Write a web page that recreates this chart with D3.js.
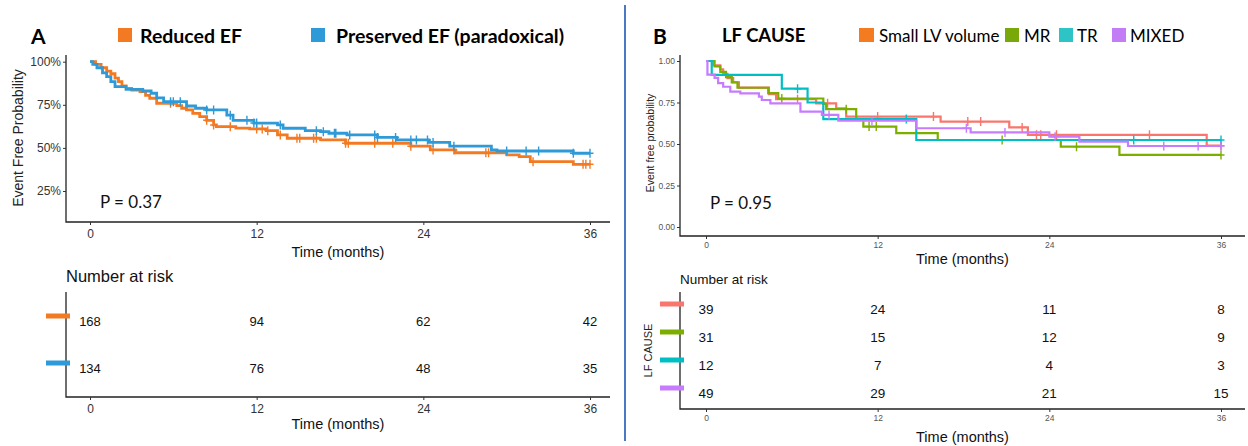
<!DOCTYPE html>
<html>
<head>
<meta charset="utf-8">
<script src="https://cdn.jsdelivr.net/npm/d3@7"></script>
<style>
  body { margin: 0; background: #fff; }
  svg { display: block; }
</style>
</head>
<body>
<svg id="chart" width="1248" height="446"></svg>
<script>
// ---- data ----
const monthTicks = [0, 12, 24, 36];
const pctTicks = [0.25, 0.5, 0.75, 1];
const probTicks = [0, 0.25, 0.5, 0.75, 1];

// Panel A: [time (months), survival]
const groupsA = ["Reduced EF", "Preserved EF (paradoxical)"];
const reducedEF = [[0,1],[0.4,0.985],[0.8,0.965],[1.2,0.945],[1.5,0.93],[1.8,0.905],[2.05,0.884],[2.3,0.86],[2.6,0.845],[3.0,0.835],[3.6,0.826],[4.0,0.805],[4.3,0.788],[4.8,0.759],[6.25,0.745],[6.6,0.73],[6.95,0.72],[7.4,0.70],[7.9,0.681],[8.4,0.66],[8.9,0.633],[9.1,0.623],[10.5,0.615],[11.5,0.61],[12.7,0.60],[13.5,0.575],[14.2,0.556],[16.6,0.546],[18.4,0.527],[23.1,0.51],[24.5,0.488],[26.3,0.472],[30.0,0.459],[30.9,0.449],[31.7,0.42],[34.8,0.405]];
const preservedEF = [[0,1],[0.2,0.985],[0.5,0.965],[0.9,0.935],[1.2,0.913],[1.5,0.885],[1.8,0.855],[2.6,0.84],[3.8,0.83],[4.4,0.817],[4.8,0.79],[5.3,0.768],[6.95,0.743],[7.6,0.73],[8.4,0.72],[9.85,0.69],[10.3,0.66],[11.8,0.644],[13.5,0.633],[13.9,0.614],[15.5,0.60],[16.6,0.594],[17.2,0.585],[18.5,0.575],[20.7,0.561],[22.1,0.546],[24.4,0.532],[25.9,0.51],[28.9,0.488],[29.3,0.482],[34.8,0.469]];
const reducedCens = [5.8, 8.4, 8.9, 10.1, 12.0, 12.4, 12.8, 13.7, 14.9, 15.1, 16.1, 16.3, 18.4, 18.6, 20.5, 21.8, 23.1, 24.7, 26.2, 28.5, 28.7, 31.9, 35.5, 35.7, 36];
const preservedCens = [5.8, 6.0, 6.5, 8.4, 8.9, 10.1, 11.3, 11.8, 12.0, 13.7, 16.3, 16.8, 17.6, 17.7, 18.7, 20.5, 20.7, 22.0, 23.1, 23.5, 24.3, 24.7, 26.2, 30.0, 31.4, 32.3, 34.8, 36];
const reducedRisk = [168, 94, 62, 42];
const preservedRisk = [134, 76, 48, 35];

// Panel B
const groupsB = ["Small LV volume", "MR", "TR", "MIXED"];
const smallLV = [[0,1],[0.5,0.974],[1.0,0.949],[1.2,0.923],[1.5,0.897],[1.9,0.872],[2.3,0.84],[4.4,0.80],[4.9,0.77],[7.7,0.745],[9.1,0.715],[9.8,0.665],[16.4,0.635],[21.2,0.60],[22.5,0.555],[35.0,0.49]];
const mr = [[0,1],[0.6,0.968],[1.0,0.935],[1.4,0.903],[1.8,0.871],[2.2,0.839],[4.35,0.806],[5.05,0.774],[8.2,0.742],[8.4,0.71],[10.5,0.645],[11.0,0.605],[13.3,0.565],[16.2,0.524],[24.8,0.484],[28.9,0.434]];
const tr = [[0,1],[0.4,0.917],[5.3,0.833],[7.1,0.75],[8.2,0.65],[14.7,0.524]];
const mixed = [[0,1],[0.1,0.918],[0.6,0.898],[0.85,0.867],[1.2,0.845],[1.7,0.815],[2.4,0.805],[3.7,0.785],[3.9,0.765],[4.5,0.745],[6.6,0.695],[8.1,0.675],[9.25,0.64],[14.7,0.595],[18.5,0.57],[24.0,0.544],[26.1,0.514],[29.5,0.488]];
const smallLVCens = [6.4, 8.5, 12.0, 15.9, 18.3, 19.2, 22.1, 23.1, 23.4, 24.5, 31.0, 36];
const mrCens = [5.3, 9.8, 11.4, 11.9, 20.7, 25.9, 36];
const trCens = [6.4, 14.0, 29.9, 36];
const mixedCens = [8.6, 11.6, 18.2, 20.9, 24.4, 32.0, 34.4, 36];
const smallLVRisk = [39, 24, 11, 8];
const mrRisk = [31, 15, 12, 9];
const trRisk = [12, 7, 4, 3];
const mixedRisk = [49, 29, 21, 15];

// ---- drawing ----
const svg = d3.select("#chart");
svg.append("rect").attr("width", 1248).attr("height", 446).attr("fill", "#fff");

const ARIAL = "'Liberation Sans', Arial, sans-serif";
const GILL = "Lato, 'Open Sans', sans-serif";

function stepAt(curve, t) {
  let v = curve[0][1];
  for (const [ct, cv] of curve) { if (ct <= t) v = cv; else break; }
  return v;
}

function styleAxis(g, size, color) {
  g.select(".domain").remove();
  g.selectAll(".tick line").attr("stroke", "#333").attr("stroke-width", 1);
  g.selectAll(".tick text").attr("font-family", ARIAL).attr("font-size", size).attr("fill", color);
}

function frame(g, left, top, bottom, right) {
  g.append("path")
    .attr("d", `M${left},${top}V${bottom}H${right}`)
    .attr("fill", "none").attr("stroke", "#222").attr("stroke-width", 1.3);
}

function text(g, x, y, s, font, size, opts = {}) {
  const t = g.append("text").attr("x", x).attr("y", y).text(s)
    .attr("font-family", font).attr("font-size", size)
    .attr("fill", opts.fill || "#111")
    .attr("dominant-baseline", "central")
    .attr("text-anchor", opts.anchor || "start");
  if (opts.bold) t.attr("font-weight", "bold");
  if (opts.rotate) t.attr("transform", `rotate(-90,${x},${y})`);
  return t;
}

function drawPanel(cfg) {
  const g = svg.append("g");
  const x = d3.scaleLinear().domain([0, 36]).range(cfg.xRange);
  const y = d3.scaleLinear().domain([0, 1]).range(cfg.yRange);

  // survival plot
  frame(g, cfg.left, cfg.top, cfg.bottom, cfg.right);
  const xa = g.append("g").attr("transform", `translate(0,${cfg.bottom})`)
    .call(d3.axisBottom(x).tickValues(monthTicks).tickSize(3).tickPadding(cfg.tickPad));
  styleAxis(xa, cfg.tickSize, cfg.tickColor);
  const ya = g.append("g").attr("transform", `translate(${cfg.left},0)`)
    .call(d3.axisLeft(y).tickValues(cfg.yTicks).tickFormat(cfg.yFormat).tickSize(3).tickPadding(2));
  styleAxis(ya, cfg.yTickSize, cfg.tickColor);

  const line = d3.line().x(d => x(d[0])).y(d => y(d[1])).curve(d3.curveStepAfter);
  cfg.series.forEach(s => {
    const pts = s.curve.concat([[36, s.curve[s.curve.length - 1][1]]]);
    g.append("path").attr("d", line(pts)).attr("fill", "none")
      .attr("stroke", s.color).attr("stroke-width", cfg.lineWidth);
    g.append("path")
      .attr("d", s.cens.map(t => {
        const cx = x(t), cy = y(stepAt(s.curve, t));
        return `M${cx - 3.5},${cy}H${cx + 3.5}M${cx},${cy - 4.5}V${cy + 4.5}`;
      }).join(""))
      .attr("fill", "none").attr("stroke", s.color).attr("stroke-width", 1.4);
  });

  text(g, cfg.yLabelX, cfg.yLabelY, cfg.yLabel, ARIAL, cfg.yLabelSize, { anchor: "middle", rotate: true, fill: "#222" });
  text(g, (cfg.left + cfg.right) / 2, cfg.timeY, "Time (months)", ARIAL, 14.5, { anchor: "middle", fill: "#111" });
  text(g, cfg.pX, cfg.pY, cfg.pText, GILL, 17, { fill: "#111" });

  // risk table
  text(g, cfg.left, cfg.riskTitleY, "Number at risk", ARIAL, cfg.riskTitleSize, { fill: "#111" });
  frame(g, cfg.left, cfg.riskTop, cfg.riskBottom, cfg.right);
  const rows = d3.scalePoint().domain(cfg.series.map(s => s.name)).range(cfg.rowRange);
  cfg.series.forEach(s => {
    const ry = rows(s.name);
    g.append("line").attr("x1", cfg.left - 20).attr("x2", cfg.left + 4)
      .attr("y1", ry - 5).attr("y2", ry - 5)
      .attr("stroke", s.dash).attr("stroke-width", 5);
    s.risk.forEach((n, i) => text(g, x(monthTicks[i]), ry, n, ARIAL, cfg.riskSize, { anchor: "middle", fill: "#111" }));
  });
  const xb = g.append("g").attr("transform", `translate(0,${cfg.riskBottom})`)
    .call(d3.axisBottom(x).tickValues(monthTicks).tickSize(3).tickPadding(cfg.tickPad));
  styleAxis(xb, cfg.tickSize, cfg.tickColor);
  text(g, (cfg.left + cfg.right) / 2, cfg.riskTimeY, "Time (months)", ARIAL, 14.5, { anchor: "middle", fill: "#111" });
  if (cfg.riskLabel) text(g, cfg.riskLabelX, (cfg.riskTop + cfg.riskBottom) / 2, cfg.riskLabel, ARIAL, 11, { anchor: "middle", rotate: true, fill: "#222" });

  // header
  text(g, cfg.letterX, 35, cfg.letter, GILL, 21, { bold: true, fill: "#000" });
  if (cfg.title) text(g, cfg.titleX, 35, cfg.title, GILL, 18.5, { bold: true, fill: "#000" });
  cfg.legend.forEach((l, i) => {
    g.append("rect").attr("x", l.sx).attr("y", 28).attr("width", l.sw).attr("height", 14).attr("fill", l.color);
    text(g, l.tx, 35, cfg.legendNames[i], GILL, cfg.legendSize, { bold: cfg.legendBold, fill: "#000" });
  });
}

const colA = ["#F37A22", "#2E9AD8"];
drawPanel({
  letter: "A", letterX: 31,
  left: 66, right: 610, top: 55, bottom: 222,
  xRange: [90, 590], yRange: [234.1, 61.7],
  yTicks: pctTicks, yFormat: d3.format(".0%"),
  tickSize: 12, yTickSize: 12, tickColor: "#333", tickPad: 4,
  lineWidth: 2.8,
  yLabel: "Event Free Probability", yLabelX: 18, yLabelY: 138, yLabelSize: 14,
  timeY: 252, pText: "P = 0.37", pX: 100, pY: 201,
  riskTitleY: 276, riskTitleSize: 16.5, riskTop: 292, riskBottom: 397, rowRange: [321, 368], riskSize: 13, riskTimeY: 424,
  legendNames: groupsA, legendSize: 19.5, legendBold: true,
  legend: [{ sx: 118, sw: 14, tx: 140, color: colA[0] }, { sx: 311, sw: 14, tx: 336, color: colA[1] }],
  series: [
    { name: groupsA[0], curve: reducedEF, cens: reducedCens, risk: reducedRisk, color: colA[0], dash: colA[0] },
    { name: groupsA[1], curve: preservedEF, cens: preservedCens, risk: preservedRisk, color: colA[1], dash: colA[1] }
  ]
});

const colB = ["#F8766D", "#7CAE00", "#00BFC4", "#C77CFF"];
const legB = ["#F47B20", "#78A80A", "#2EC4C6", "#C27CF5"];
drawPanel({
  letter: "B", letterX: 653, title: "LF CAUSE", titleX: 722,
  left: 680, right: 1245, top: 55, bottom: 236,
  xRange: [706, 1221], yRange: [227, 61],
  yTicks: probTicks, yFormat: d3.format(".2f"),
  tickSize: 8.5, yTickSize: 8.5, tickColor: "#555", tickPad: 3,
  lineWidth: 2.2,
  yLabel: "Event free probability", yLabelX: 650, yLabelY: 143, yLabelSize: 10.5,
  timeY: 259, pText: "P = 0.95", pX: 710, pY: 202,
  riskTitleY: 279, riskTitleSize: 13.5, riskTop: 292, riskBottom: 409, rowRange: [309, 393], riskSize: 13.5, riskTimeY: 437,
  riskLabel: "LF CAUSE", riskLabelX: 648,
  legendNames: groupsB, legendSize: 17, legendBold: false,
  legend: [
    { sx: 859, sw: 15, tx: 879, color: legB[0] },
    { sx: 1005, sw: 14, tx: 1024, color: legB[1] },
    { sx: 1059, sw: 14, tx: 1077, color: legB[2] },
    { sx: 1112, sw: 14, tx: 1130, color: legB[3] }
  ],
  series: groupsB.map((name, i) => ({
    name, color: colB[i], dash: colB[i],
    curve: [smallLV, mr, tr, mixed][i],
    cens: [smallLVCens, mrCens, trCens, mixedCens][i],
    risk: [smallLVRisk, mrRisk, trRisk, mixedRisk][i]
  }))
});

// divider between the two panels
svg.append("line").attr("x1", 625).attr("x2", 625).attr("y1", 5).attr("y2", 441)
  .attr("stroke", "#4A78C2").attr("stroke-width", 2);
</script>
</body>
</html>
